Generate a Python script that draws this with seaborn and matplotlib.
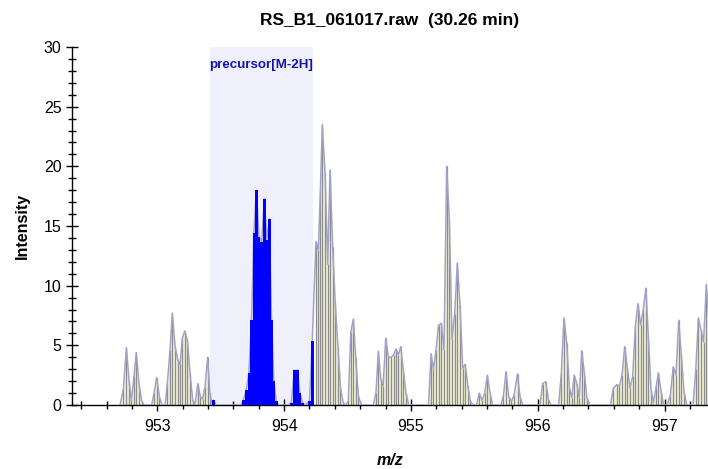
import numpy as np
import matplotlib
matplotlib.use('Agg')
import matplotlib.pyplot as plt
import seaborn as sns

# profile points outside the precursor window (m/z, intensity)
gray_mz = [952.706, 952.732, 952.756, 952.777, 952.795, 952.816, 952.834, 952.856, 952.877, 952.897,
           952.956, 952.974, 952.995, 953.016, 953.037,
           953.061, 953.079, 953.100, 953.118, 953.140, 953.161, 953.179, 953.197, 953.216, 953.237, 953.258, 953.279, 953.297,
           953.319, 953.339, 953.358, 953.376, 953.397, 953.414, 953.434,
           954.251, 954.270, 954.286, 954.301, 954.323, 954.344, 954.362, 954.383, 954.403, 954.424, 954.444, 954.465, 954.485,
           954.506, 954.526, 954.546, 954.565, 954.585, 954.607,
           954.703, 954.724, 954.743, 954.762, 954.781, 954.801, 954.822, 954.843, 954.864, 954.883, 954.901, 954.920, 954.940, 954.961, 954.983,
           955.139, 955.159, 955.178, 955.198, 955.218, 955.240, 955.261, 955.282, 955.303, 955.324, 955.345, 955.366, 955.387, 955.408, 955.428, 955.449, 955.469, 955.490,
           955.518, 955.539, 955.561, 955.582, 955.603, 955.624, 955.645,
           955.711, 955.730, 955.750, 955.771, 955.792, 955.813, 955.841, 955.860, 955.882,
           956.018, 956.039, 956.063, 956.084, 956.105,
           956.165, 956.186, 956.207, 956.229, 956.249, 956.269, 956.288, 956.308, 956.327, 956.347, 956.368, 956.388, 956.409,
           956.574, 956.596, 956.623, 956.644, 956.665, 956.686, 956.707, 956.728, 956.749, 956.770, 956.791, 956.812, 956.833, 956.853, 956.873, 956.894, 956.913, 956.933, 956.952, 956.972, 956.993,
           957.020, 957.046, 957.069, 957.091, 957.112, 957.132, 957.154, 957.175,
           957.225, 957.247, 957.267, 957.288, 957.308, 957.330, 957.351]
gray_int = [0, 1.3, 4.8, 2.0, 0.4, 2.4, 4.4, 1.7, 0.3, 0,
            0, 1.0, 2.3, 0.7, 0,
            0, 1.8, 4.6, 7.7, 4.9, 3.8, 3.4, 5.6, 6.2, 5.45, 2.65, 0.4, 0,
            1.8, 0.7, 0.5, 1.5, 4.0, 1.0, 0,
            13.7, 13.0, 18.0, 23.5, 19.4, 11.8, 19.7, 13.2, 8.6, 4.9, 1.5, 0.2, 0,
            0.3, 6.1, 7.2, 3.9, 0.8, 0,
            0, 1.0, 4.5, 2.2, 1.6, 5.6, 4.0, 4.0, 4.2, 4.7, 4.2, 4.9, 2.9, 1.0, 0,
            0, 4.3, 3.0, 4.6, 6.7, 6.85, 4.6, 20.0, 15.5, 5.5, 7.6, 11.9, 8.4, 3.1, 3.4, 1.6, 0.3, 0,
            0, 1.0, 0.4, 1.0, 2.5, 1.0, 0,
            0, 0.8, 2.8, 0.7, 0.3, 0.8, 2.6, 0.7, 0,
            0, 1.8, 1.95, 0.5, 0,
            0, 2.65, 7.3, 5.2, 1.5, 0.6, 2.5, 1.8, 0.6, 4.55, 2.65, 0.6, 0,
            0, 1.4, 1.7, 1.6, 2.5, 4.9, 3.1, 1.4, 2.4, 6.6, 8.5, 6.7, 8.0, 9.8, 5.7, 1.25, 0.2, 1.5, 2.7, 1.2, 0,
            0, 0.8, 3.2, 2.5, 7.1, 4.3, 1.1, 0,
            0, 3.0, 7.3, 6.3, 5.3, 10.1, 7.0]

# profile points inside the precursor window
blue_mz = [953.442, 953.463,
           953.659, 953.678, 953.701, 953.722, 953.743, 953.761, 953.781, 953.802, 953.823, 953.844, 953.864, 953.883, 953.901, 953.919, 953.938, 953.957,
           954.037, 954.057, 954.080, 954.104, 954.125, 954.145, 954.165, 954.200, 954.222]
blue_int = [0.4, 0,
            0, 0.4, 1.25, 2.7, 7.1, 14.4, 18.0, 14.1, 13.7, 17.3, 13.8, 15.6, 7.1, 2.0, 0.3, 0,
            0, 0.2, 2.9, 2.9, 1.0, 0.2, 0, 0.3, 5.4]

window = (953.415, 954.228)
window_label = 'precursor[M-2H]'

sns.set_style('ticks')
plt.rcParams['font.family'] = ['Liberation Sans', 'DejaVu Sans']
plt.rcParams['text.color'] = 'black'
plt.rcParams['axes.labelcolor'] = 'black'
plt.rcParams['xtick.color'] = 'black'
plt.rcParams['ytick.color'] = 'black'

fig = plt.figure(figsize=(7.08, 4.69), dpi=100)
ax = fig.add_axes([0.1017, 0.1365, 0.8983, 0.7633])

ax.axvspan(window[0], window[1], color='#F0F0FC', zorder=0, lw=0)
ax.text((window[0] + window[1]) / 2, 28.5, window_label, color='#1414B4', fontsize=9.6,
        fontweight='bold', ha='center', va='center', zorder=5)

gx = np.array(gray_mz)
gy = np.array(gray_int)
# fill each separate cluster under the profile
breaks = np.where(np.diff(gx) > 0.05)[0] + 1
for sx, sy in zip(np.split(gx, breaks), np.split(gy, breaks)):
    ax.fill_between(sx, 0, sy, color='#F1F1D6', lw=0, zorder=1)
ax.vlines(gx, 0, gy, color='#8C8C8C', lw=0.9, zorder=2)

prof = sorted(zip(gray_mz + blue_mz, gray_int + blue_int))
prof_df = {'mz': [p[0] for p in prof], 'inten': [p[1] for p in prof]}
sns.lineplot(x=prof_df['mz'], y=prof_df['inten'], color='#A2A2C8', lw=1.1, ax=ax, zorder=3,
             sort=False, estimator=None)

ax.bar(blue_mz, blue_int, width=0.0205, color='#0000FF', lw=0, zorder=4)

ax.set_xlim(952.327, 957.343)
ax.set_ylim(0, 30)
ax.set_xticks([953, 954, 955, 956, 957])
ax.set_xticks(np.arange(952.4, 957.35, 0.2), minor=True)
ax.set_yticks([0, 5, 10, 15, 20, 25, 30])
ax.set_yticks(np.arange(0, 31, 1), minor=True)
ax.tick_params(which='major', direction='inout', length=8, width=1, labelsize=11.5, color='black')
ax.tick_params(which='minor', direction='inout', length=6, width=1, color='black')
ax.tick_params(axis='x', pad=6)
for s in ['top', 'right']:
    ax.spines[s].set_visible(False)
for s in ['left', 'bottom']:
    ax.spines[s].set_color('black')
    ax.spines[s].set_linewidth(1)

ax.set_title('RS_B1_061017.raw  (30.26 min)', fontsize=12.5, fontweight='bold', pad=16)
ax.set_ylabel('Intensity', fontsize=11.5, fontweight='bold', labelpad=10)
ax.set_xlabel('m/z', fontsize=11.5, fontweight='bold', style='italic', labelpad=14)

fig.savefig('out.png', dpi=100)
